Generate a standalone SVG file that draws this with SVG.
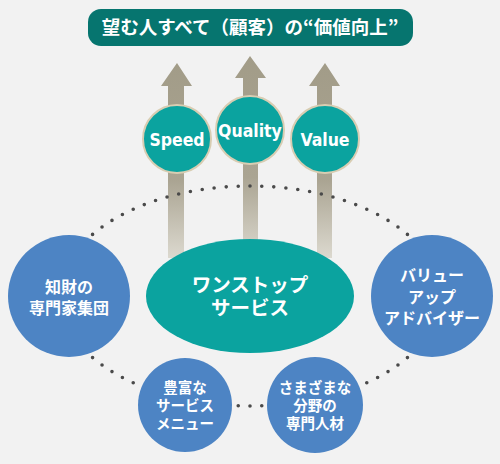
<svg xmlns="http://www.w3.org/2000/svg" width="500" height="464" viewBox="0 0 500 464">
<defs>
<linearGradient id="shaft" x1="0" y1="0" x2="0" y2="1">
<stop offset="0" stop-color="#a29c88"/>
<stop offset="0.6" stop-color="#aaa492"/>
<stop offset="1" stop-color="#dcd9cf"/>
</linearGradient>
<style>
.jp{font-family:"Noto Sans CJK JP","Noto Sans",sans-serif;font-weight:bold;fill:#fff;text-anchor:middle}
.en{font-family:"DejaVu Sans Condensed","Liberation Sans",sans-serif;font-weight:bold;fill:#fff;text-anchor:middle;font-size:17.5px}
.blue{fill:#4d84c4}
.teal{fill:#0ba39f}
.sm{fill:#0ba39f;stroke:#d8cdb2;stroke-width:2}
.arrow{fill:url(#shaft)}
</style>
</defs>
<rect width="500" height="464" fill="#f2f2f2"/>

<g id="title">
<rect x="88" y="9" width="325" height="37" rx="13" fill="#06756f"/>
<text class="jp" x="250" y="34" font-size="18.5">望む人すべて（顧客）の“価値向上”</text>
</g>

<g id="arrows">
<path class="arrow" d="M177 63 L192 86 L184 86 L184 258 L168 258 L168 86 L161 86 Z"/>
<path class="arrow" d="M250 56 L266 78 L258 78 L258 258 L243 258 L243 78 L235 78 Z"/>
<path class="arrow" d="M325 63 L340 86 L332 86 L332 258 L317 258 L317 86 L309 86 Z"/>
</g>

<g id="connectors">
<ellipse cx="250" cy="296" rx="190" ry="110" fill="none" stroke="#4a4a4a" stroke-width="3.6" stroke-linecap="round" stroke-dasharray="0 1" pathLength="80"/>
</g>

<g id="speed">
<circle class="sm" cx="177" cy="139" r="34"/>
<text class="en" x="177" y="145.5">Speed</text>
</g>
<g id="quality">
<circle class="sm" cx="250" cy="130" r="34"/>
<text class="en" x="250" y="136.5">Quality</text>
</g>
<g id="value">
<circle class="sm" cx="325" cy="139" r="34"/>
<text class="en" x="325" y="145.5">Value</text>
</g>

<g id="onestop">
<ellipse class="teal" cx="250" cy="296" rx="104" ry="57"/>
<text class="jp" x="250" y="292" font-size="19.5">ワンストップ</text>
<text class="jp" x="250" y="315" font-size="19.5">サービス</text>
</g>

<g id="chizai">
<circle class="blue" cx="69" cy="296" r="61"/>
<text class="jp" x="69" y="293" font-size="16">知財の</text>
<text class="jp" x="69" y="314" font-size="16">専門家集団</text>
</g>

<g id="valueup">
<circle class="blue" cx="432" cy="296" r="61"/>
<text class="jp" x="432" y="281" font-size="16">バリュー</text>
<text class="jp" x="432" y="303" font-size="16">アップ</text>
<text class="jp" x="432" y="324" font-size="16">アドバイザー</text>
</g>

<g id="menu">
<circle class="blue" cx="185" cy="405" r="47"/>
<text class="jp" x="185" y="393" font-size="14.5">豊富な</text>
<text class="jp" x="185" y="411" font-size="14.5">サービス</text>
<text class="jp" x="185" y="429" font-size="14.5">メニュー</text>
</g>

<g id="jinzai">
<circle class="blue" cx="315" cy="405" r="48"/>
<text class="jp" x="315" y="393" font-size="14.5">さまざまな</text>
<text class="jp" x="315" y="411" font-size="14.5">分野の</text>
<text class="jp" x="315" y="429" font-size="14.5">専門人材</text>
</g>
</svg>
